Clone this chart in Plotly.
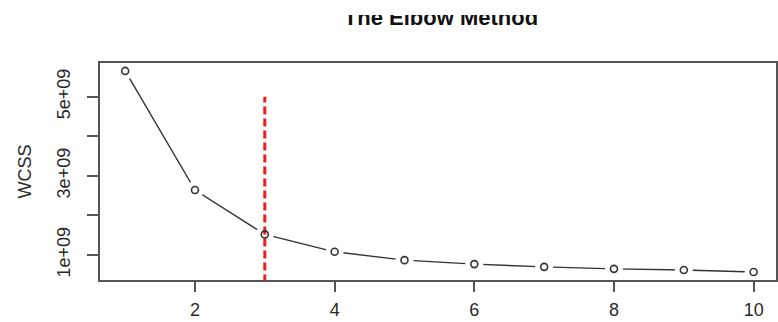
import plotly.graph_objects as go

# Data
k_values = [1, 2, 3, 4, 5, 6, 7, 8, 9, 10]
wcss = [5.65e9, 2.64e9, 1.52e9, 1.08e9, 0.87e9, 0.77e9, 0.70e9, 0.65e9, 0.62e9, 0.57e9]
elbow_k = 3
elbow_line_y = [0, 5e9]
x_tick_vals = [2, 4, 6, 8, 10]
y_tick_vals = [1e9, 2e9, 3e9, 4e9, 5e9]
y_tick_text = ["1e+09", "", "3e+09", "", "5e+09"]
title_text = "The Elbow Method"

FONT = "Liberation Sans, Arial, sans-serif"
INK = "#2a2a2a"
AXIS = "#555555"

H = 322
T, B = 15, 42
paper_h = H - T - B
plot_top, plot_bot = 63, 280
main_dom = [0, (plot_bot - plot_top) / paper_h]
title_dom = [(plot_bot - 40) / paper_h, 1]

fig = go.Figure()

# connecting line
fig.add_trace(go.Scatter(x=k_values, y=wcss, mode="lines",
                         line=dict(color="#333333", width=1.4),
                         hoverinfo="skip", showlegend=False))
# white masks to create gaps around points (R type="b")
fig.add_trace(go.Scatter(x=k_values, y=wcss, mode="markers",
                         marker=dict(symbol="circle", size=18, color="white",
                                     line=dict(width=0)),
                         hoverinfo="skip", showlegend=False))
# red dashed elbow line
fig.add_trace(go.Scatter(x=[elbow_k, elbow_k], y=elbow_line_y, mode="lines",
                         line=dict(color="#ee1c1c", width=3, dash="8px,4px"),
                         hoverinfo="skip", showlegend=False))
# open circles
fig.add_trace(go.Scatter(x=k_values, y=wcss, mode="markers",
                         marker=dict(symbol="circle-open", size=7, color="#333333",
                                     line=dict(width=1.6)),
                         showlegend=False))
# title (clipped at top as in the reference crop)
fig.add_trace(go.Scatter(x=[0.5 + 3 / 676], y=[0.84], mode="text",
                         text=["<b>" + title_text + "</b>"],
                         textposition="middle center",
                         textfont=dict(family=FONT, size=22, color="#111111"),
                         cliponaxis=True, hoverinfo="skip", showlegend=False,
                         xaxis="x2", yaxis="y2"))

fig.update_layout(
    width=778, height=H,
    margin=dict(l=100, r=2, t=T, b=B, autoexpand=False),
    paper_bgcolor="white", plot_bgcolor="white",
    font=dict(family=FONT, size=18, color=INK),
    xaxis=dict(domain=[0, 1], anchor="y", range=[0.64, 10.32], tickvals=x_tick_vals,
               ticks="outside", ticklen=10, tickwidth=1.5, tickcolor=AXIS,
               showline=True, linecolor=AXIS, linewidth=1.5, mirror=True,
               showgrid=False, zeroline=False, ticklabelstandoff=3, automargin=False,
               tickfont=dict(size=18, color=INK)),
    yaxis=dict(domain=main_dom, anchor="x", range=[0.368e9, 5.85e9],
               tickvals=y_tick_vals, ticktext=y_tick_text,
               ticks="outside", ticklen=11, tickwidth=1.5, tickcolor=AXIS,
               showline=True, linecolor=AXIS, linewidth=1.5, mirror=True,
               showgrid=False, zeroline=False, tickangle=-90, automargin=False,
               ticklabelstandoff=10,
               tickfont=dict(size=18, color=INK),
               title=dict(text="WCSS", font=dict(size=18, color=INK), standoff=18)),
    xaxis2=dict(domain=[0, 1], range=[0, 1], visible=False, anchor="y2", automargin=False),
    yaxis2=dict(domain=title_dom, range=[0, 1], visible=False, anchor="x2", automargin=False),
)

fig.write_html("out.html")
